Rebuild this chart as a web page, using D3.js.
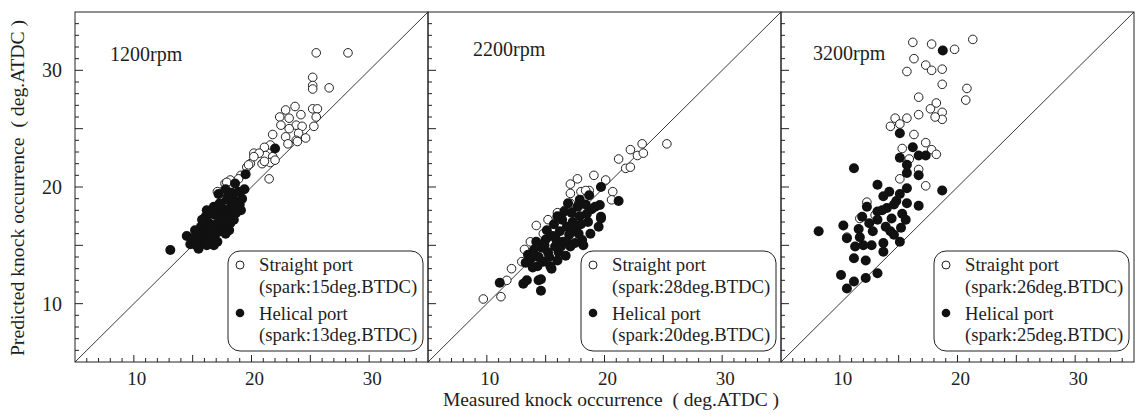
<!DOCTYPE html>
<html>
<head>
<meta charset="utf-8">
<script src="https://cdn.jsdelivr.net/npm/d3@7"></script>
<style>
  html, body { margin: 0; padding: 0; background: #fff; }
  svg { display: block; }
  text { font-family: "Liberation Serif", "DejaVu Serif", serif; fill: #1e1e1e; }
</style>
</head>
<body>
<svg id="chart" width="1140" height="417"></svg>
<script>
// Engine speeds, one panel each
const speeds = ["1200rpm", "2200rpm", "3200rpm"];
const straightSpark = ["15", "28", "26"];
const helicalSpark = ["13", "20", "25"];

const xTickValues = [10, 20, 30];
const yTickValues = [10, 20, 30];
const axisDomain = [5, 35];

// [measured, predicted] knock occurrence (deg.ATDC)
const straight1200 = [
  [25.5,31.5],[28.2,31.5],[25.2,29.4],[25.2,28.7],[25.2,28.4],[26.6,28.5],
  [22.9,26.6],[23.7,26.9],[22.4,26.0],[23.2,25.9],[24.2,26.2],[25.2,26.7],
  [25.6,26.7],[25.5,26.0],[23.8,25.3],[22.5,25.3],[23.2,25.0],[24.3,25.2],
  [21.8,24.5],[22.9,24.3],[24.0,24.6],[25.3,25.2],[23.8,24.0],[23.1,23.7],
  [21.6,23.6],[21.1,23.4],[20.2,22.9],[21.2,22.7],[21.8,22.6],[20.9,22.0],
  [19.9,22.0],[19.6,21.7],[21.6,22.1],[20.65,22.9],[20.2,22.6],[22.0,22.3],
  [21.1,22.2],[19.75,21.9],[19.1,21.0],[18.2,20.6],[17.75,20.3],[18.9,20.7],
  [17.5,19.6],[21.5,20.7],[17.9,20.4],[17.1,19.6],[24.6,24.2],[23.9,23.9]
];
const helical1200 = [
  [22.0,23.3],[19.5,21.1],[13.1,14.6],[14.5,15.8],[15.5,14.7],[15.1,15.2],
  [17.1,15.3],[18.1,16.3],[18.5,17.2],[16.1,17.45],[15.7,16.6],[16.8,18.3],
  [19.1,18.0],[17.8,19.8],[18.3,19.5],[18.9,19.6],[19.2,19.0],[18.6,18.8],
  [17.9,18.9],[17.3,18.6],[18.2,18.2],[19.0,18.5],[17.6,17.9],[16.9,17.6],
  [17.4,17.3],[18.0,17.6],[18.7,17.8],[16.4,16.9],[17.0,16.8],[17.6,16.5],
  [18.2,16.9],[15.9,16.1],[16.5,16.2],[17.1,16.1],[15.4,15.9],[16.0,15.6],
  [16.6,15.6],[15.0,15.6],[15.6,15.2],[16.2,15.0],[14.8,15.1],[15.3,15.0],
  [16.5,17.7],[17.2,19.4],[18.6,20.3],[19.4,19.8],[16.2,18.0],[17.8,16.0],
  [15.8,17.2],[18.4,19.0],[17.5,18.2],[16.7,16.4],[15.2,16.3],[16.3,16.6],
  [17.7,17.1],[18.5,18.3],[15.5,15.5],[17.0,18.0],[18.0,19.2],[16.8,15.0]
];

const straight2200 = [
  [25.3,23.7],[23.2,23.7],[22.2,23.2],[22.8,22.7],[23.3,22.9],[21.2,22.4],
  [21.8,21.6],[22.2,21.7],[19.1,21.0],[17.7,20.7],[20.1,20.6],[17.1,20.25],
  [18.0,19.6],[18.7,19.7],[20.7,19.6],[17.1,19.45],[20.6,18.9],[17.1,18.6],
  [16.0,17.8],[16.6,18.0],[14.2,16.7],[13.7,15.3],[13.2,14.65],[12.97,13.6],
  [12.1,13.0],[11.7,12.0],[11.2,10.6],[9.7,10.4],[18.4,19.7],[15.2,17.2],
  [14.8,16.0]
];
const helical2200 = [
  [21.2,18.8],[19.7,17.45],[19.6,18.45],[18.5,17.7],[18.8,16.0],[18.1,15.45],
  [17.1,14.9],[16.0,13.7],[15.4,13.2],[14.3,13.2],[13.4,12.0],[17.9,18.9],
  [17.7,18.3],[19.2,18.3],[19.7,17.3],[19.5,16.6],[18.2,15.0],[15.8,14.9],
  [15.5,13.0],[14.4,14.0],[13.5,14.2],[13.3,13.5],[13.1,11.7],[14.4,12.0],
  [11.1,11.8],[14.6,11.1],[14.6,12.1],[19.7,20.0],[15.0,15.5],[15.6,15.8],
  [16.2,16.2],[16.8,16.6],[17.3,17.0],[17.9,17.5],[16.5,15.3],[17.0,15.9],
  [17.6,16.3],[15.2,14.4],[14.7,14.8],[14.0,14.6],[16.1,14.4],[16.7,14.1],
  [14.8,13.6],[13.9,13.1],[16.4,17.2],[17.2,17.8],[18.4,18.5],[15.7,16.8],
  [16.9,18.6],[18.7,19.3],[18.0,16.8],[14.2,15.3],[15.1,16.3],[16.0,17.5],
  [13.7,13.8],[17.5,15.2],[15.3,14.0],[16.3,14.9],[17.8,16.0],[18.6,17.0],
  [16.6,17.9],[14.9,15.0],[15.9,15.5],[17.4,16.6],[18.9,18.1],[13.8,14.0],
  [16.9,15.2]
];

const straight3200 = [
  [16.2,32.4],[17.8,32.25],[19.75,31.8],[21.3,32.65],[16.3,31.0],[17.3,30.45],
  [17.8,30.0],[18.7,30.1],[15.7,29.9],[18.7,28.8],[20.8,28.45],[20.7,27.45],
  [16.7,27.7],[18.2,27.2],[17.7,26.7],[18.7,26.4],[18.7,25.8],[18.1,26.0],
  [16.7,26.2],[15.7,25.9],[14.7,25.9],[15.1,25.4],[14.3,25.2],[16.3,24.5],
  [17.3,23.8],[15.3,23.3],[17.8,23.2],[18.2,22.8],[16.7,21.5],[15.1,20.7],
  [17.3,20.1],[15.9,22.4],[11.7,17.3],[10.6,15.7],[12.3,18.7],[13.0,17.6]
];
const helical3200 = [
  [18.75,31.7],[15.1,24.6],[16.2,23.4],[15.1,22.5],[16.7,22.7],[17.3,22.7],
  [11.2,21.6],[15.7,21.9],[15.7,21.2],[16.7,21.0],[18.7,19.7],[13.2,20.2],
  [14.2,19.6],[15.7,19.9],[15.1,19.4],[13.7,19.2],[8.2,16.2],[10.3,16.7],
  [10.6,15.6],[11.7,15.7],[11.3,14.9],[11.2,13.9],[12.2,13.7],[10.1,12.45],
  [11.2,11.9],[10.6,11.3],[12.2,12.2],[13.2,12.6],[13.7,14.45],[13.7,15.2],
  [15.1,15.3],[14.3,16.2],[12.8,16.2],[13.2,17.2],[14.4,17.3],[15.3,17.7],
  [16.7,18.4],[15.7,18.6],[12.3,18.3],[13.2,17.9],[11.9,17.45],[12.5,16.9],
  [13.9,16.6],[14.8,18.8],[14.0,18.2],[12.7,15.0],[15.2,16.5],[14.6,15.9],
  [14.6,18.5],[13.6,18.0],[15.6,17.2],[12.0,15.0],[11.6,16.4]
];

const straightSets = [straight1200, straight2200, straight3200];
const helicalSets = [helical1200, helical2200, helical3200];

// ---- layout ----
const svg = d3.select("#chart");
const ink = "#222";
const plotTop = 12, plotBottom = 362;
const panelLeft = 75, panelWidth = 353;
const labelOffsets = [[35, 61], [45, 56], [32, 60]];

const y = d3.scaleLinear().domain(axisDomain).range([plotBottom, plotTop]);
const unitTicks = d3.range(axisDomain[0], axisDomain[1] + 1, 1);

speeds.forEach((speed, i) => {
  const x0 = panelLeft + i * panelWidth;
  const x = d3.scaleLinear().domain(axisDomain).range([x0, x0 + panelWidth]);
  const g = svg.append("g");

  // bottom axis: inward ticks, longer every 5
  const bottom = g.append("g").attr("transform", `translate(0,${plotBottom})`);
  bottom.selectAll("line").data(unitTicks.slice(1, -1)).join("line")
    .attr("x1", d => x(d)).attr("x2", d => x(d))
    .attr("y1", 0).attr("y2", d => d % 5 === 0 ? -7 : -4)
    .attr("stroke", ink).attr("stroke-width", 1);
  bottom.selectAll("text").data(xTickValues).join("text")
    .attr("x", d => x(d) + 3).attr("y", 23)
    .attr("text-anchor", "middle")
    .attr("font-size", 19)
    .text(d => d);

  // left axis ticks on every panel
  g.append("g").selectAll("line").data(unitTicks.slice(1, -1)).join("line")
    .attr("x1", x0).attr("x2", d => x0 + (d % 5 === 0 ? 8 : 4))
    .attr("y1", d => y(d)).attr("y2", d => y(d))
    .attr("stroke", ink).attr("stroke-width", 1);

  if (i === 0) {
    g.append("g").selectAll("text").data(yTickValues).join("text")
      .attr("x", x0 - 13).attr("y", d => y(d)).attr("dy", "0.35em")
      .attr("text-anchor", "end")
      .attr("font-size", 20)
      .text(d => d);
  }

  // frame
  g.append("rect")
    .attr("x", x0).attr("y", plotTop)
    .attr("width", panelWidth).attr("height", plotBottom - plotTop)
    .attr("fill", "none").attr("stroke", ink).attr("stroke-width", 1);

  // 1:1 reference line
  g.append("line")
    .attr("x1", x(axisDomain[0])).attr("y1", y(axisDomain[0]))
    .attr("x2", x(axisDomain[1])).attr("y2", y(axisDomain[1]))
    .attr("stroke", ink).attr("stroke-width", 0.9);

  // straight port (open) then helical port (filled)
  g.append("g").selectAll("circle").data(straightSets[i]).join("circle")
    .attr("cx", d => x(d[0])).attr("cy", d => y(d[1])).attr("r", 4.3)
    .attr("fill", "#fff").attr("stroke", ink).attr("stroke-width", 1);
  g.append("g").selectAll("circle").data(helicalSets[i]).join("circle")
    .attr("cx", d => x(d[0])).attr("cy", d => y(d[1])).attr("r", 5)
    .attr("fill", "#111");

  // speed label
  g.append("text")
    .attr("x", x0 + labelOffsets[i][0]).attr("y", labelOffsets[i][1])
    .attr("font-size", 20)
    .text(speed);

  // legend box
  const lw = 195, lh = 100;
  const lx = x0 + panelWidth - lw - 5, ly = 251;
  const lg = g.append("g").attr("transform", `translate(${lx},${ly})`);
  lg.append("rect").attr("width", lw).attr("height", lh)
    .attr("rx", 12).attr("ry", 12)
    .attr("fill", "#fff").attr("stroke", ink).attr("stroke-width", 1);
  lg.append("circle").attr("cx", 12).attr("cy", 14).attr("r", 4)
    .attr("fill", "#fff").attr("stroke", ink).attr("stroke-width", 1);
  lg.append("circle").attr("cx", 12).attr("cy", 62).attr("r", 4.3)
    .attr("fill", "#111");
  const legendLines = [
    ["Straight port", 20],
    [`(spark:${straightSpark[i]}deg.BTDC)`, 42],
    ["Helical port", 69],
    [`(spark:${helicalSpark[i]}deg.BTDC)`, 90]
  ];
  lg.selectAll("text.entry").data(legendLines).join("text")
    .attr("class", "entry")
    .attr("x", 31).attr("y", d => d[1])
    .attr("font-size", 18.7)
    .text(d => d[0]);
});

// axis titles
svg.append("text")
  .attr("x", 611).attr("y", 406)
  .attr("text-anchor", "middle")
  .attr("font-size", 19.5)
  .text("Measured knock occurrence\u2002( deg.ATDC )");

svg.append("text")
  .attr("transform", "translate(24,188) rotate(-90)")
  .attr("text-anchor", "middle")
  .attr("font-size", 19.7)
  .text("Predicted knock occurrence\u2002( deg.ATDC )");
</script>
</body>
</html>
